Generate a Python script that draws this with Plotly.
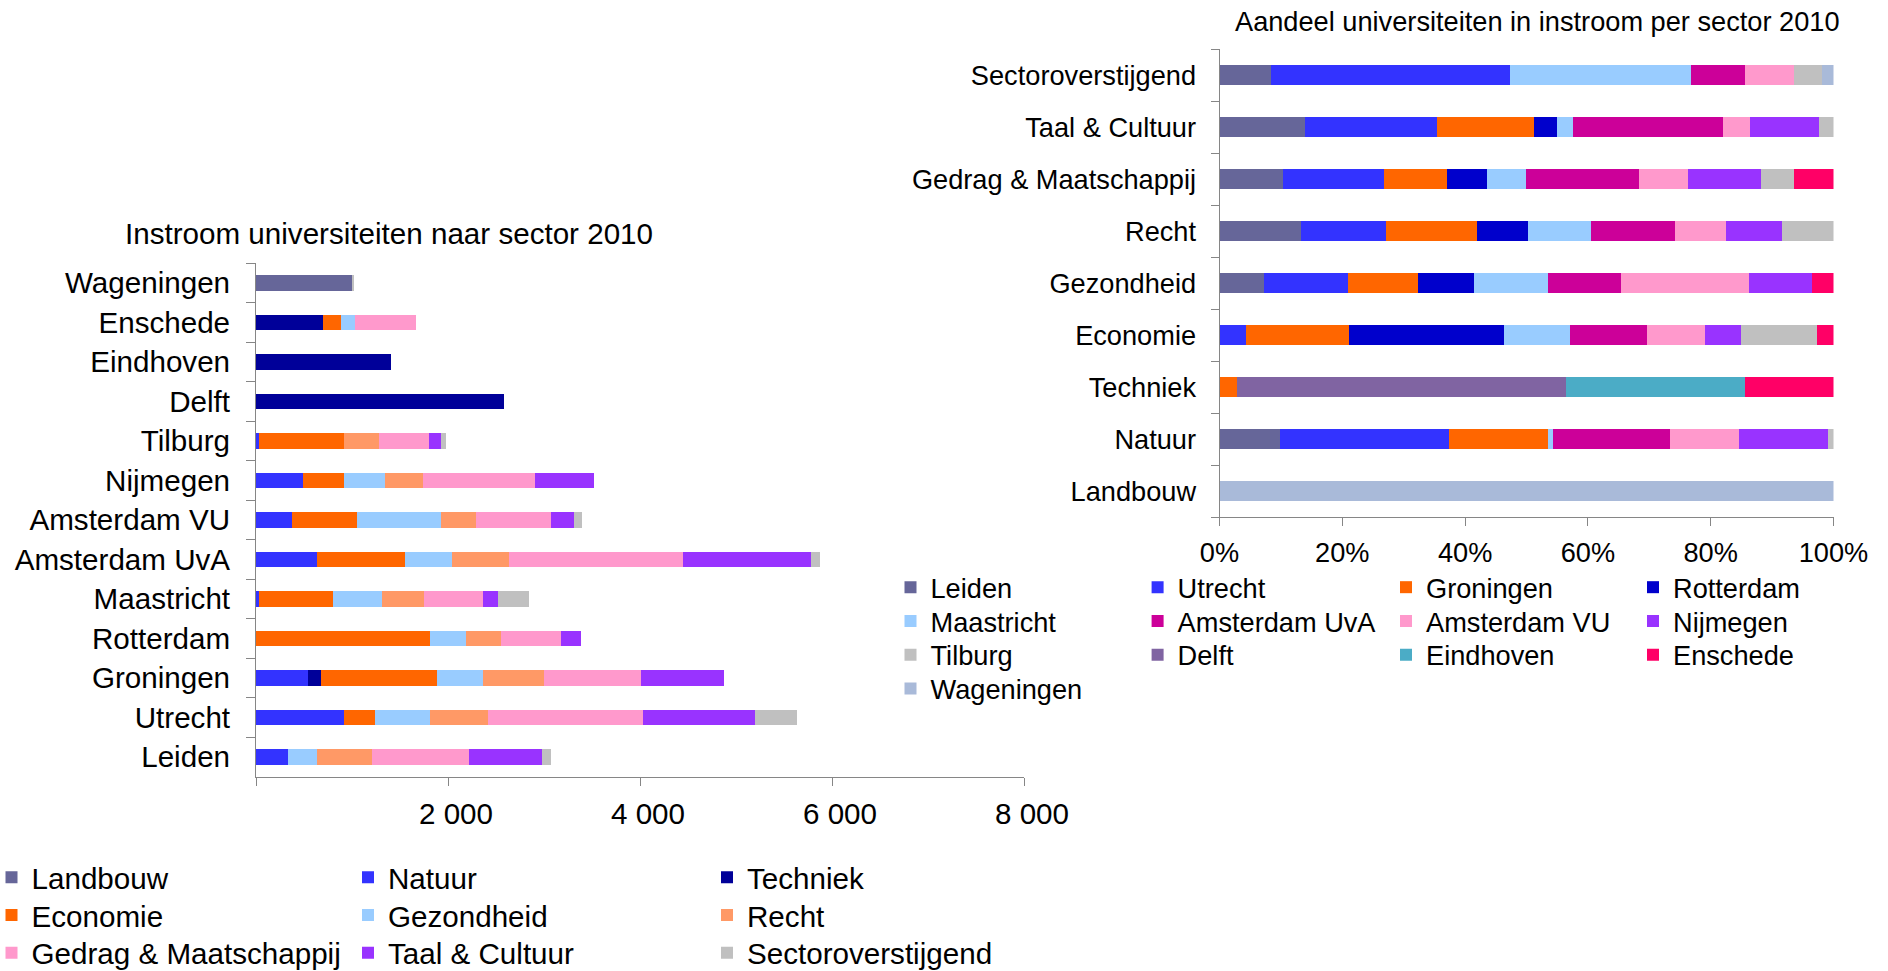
import numpy as np
import plotly.graph_objects as go

W, H = 1888, 971

universities = ["Leiden", "Utrecht", "Groningen", "Rotterdam", "Maastricht",
                "Amsterdam UvA", "Amsterdam VU", "Nijmegen", "Tilburg",
                "Delft", "Eindhoven", "Enschede", "Wageningen"]
sectors = ["Landbouw", "Natuur", "Techniek", "Economie", "Gezondheid", "Recht",
           "Gedrag & Maatschappij", "Taal & Cultuur", "Sectoroverstijgend"]

# Instroom 2010 per sector, in the order of `universities`
landbouw = [0, 0, 0, 0, 0, 0, 0, 0, 0, 0, 0, 0, 1000]
natuur = [331, 921, 542, 0, 28, 638, 375, 490, 28, 0, 0, 0, 0]
techniek = [0, 0, 140, 0, 0, 0, 0, 0, 0, 2580, 1411, 694, 0]
economie = [0, 315, 1208, 1810, 770, 909, 678, 423, 893, 0, 0, 191, 0]
gezondheid = [303, 578, 478, 379, 510, 494, 877, 435, 0, 0, 0, 144, 0]
recht = [570, 598, 634, 359, 439, 594, 359, 391, 359, 0, 0, 0, 0]
gedrag = [1013, 1615, 1009, 634, 622, 1810, 781, 1164, 518, 0, 0, 638, 0]
taal = [766, 1176, 869, 203, 148, 1336, 239, 622, 128, 0, 0, 0, 0]
sectoroverstijgend = [92, 431, 0, 0, 327, 96, 88, 0, 52, 0, 0, 0, 20]

sector_values = [landbouw, natuur, techniek, economie, gezondheid, recht,
                 gedrag, taal, sectoroverstijgend]

left_tickvals = [0, 2000, 4000, 6000, 8000]
left_ticktext = ["", "2 000", "4 000", "6 000", "8 000"]
right_tickvals = [0, 20, 40, 60, 80, 100]
right_ticktext = ["0%", "20%", "40%", "60%", "80%", "100%"]

sector_colors = ["#666699", "#3333FF", "#000099", "#FF6600", "#99CCFF",
                 "#FF9966", "#FF99CC", "#9933FF", "#C0C0C0"]
uni_colors = ["#666699", "#3333FF", "#FF6600", "#0000CC", "#99CCFF", "#CC0099",
              "#FF99CC", "#9933FF", "#C0C0C0", "#8064A2", "#4BACC6", "#FF0066",
              "#A9BAD9"]

FONT = "Liberation Sans, Arial, Helvetica, sans-serif"
FS_L = 29.6
FS_R = 27.2
AX = "#868686"

def px_x(p):
    return p / W

def px_y(p):
    return 1 - p / H

fig = go.Figure()

# share of each university within a sector (right chart)
mat = np.array(sector_values, dtype=float)          # sectors x universities
shares = mat / mat.sum(axis=1, keepdims=True) * 100

legend_layouts = {}
n_leg = 0

def new_legend(cx, cy, size):
    global n_leg
    n_leg += 1
    name = "legend" if n_leg == 1 else f"legend{n_leg}"
    legend_layouts[name] = dict(
        x=px_x(cx - 20), y=px_y(cy), xanchor="left", yanchor="middle",
        xref="paper", yref="paper", bgcolor="rgba(0,0,0,0)", borderwidth=0,
        font=dict(family=FONT, size=size, color="#000000"),
        orientation="v", tracegroupgap=0, itemclick=False,
    )
    return name

# left legend geometry (3 columns)
L_cols = [11.5, 368, 727]
L_rows = [877.5, 915.3, 953.0]
for i, s in enumerate(sectors):
    lg = new_legend(L_cols[i % 3], L_rows[i // 3], FS_L)
    fig.add_trace(go.Bar(
        y=universities, x=sector_values[i], name=s, orientation="h",
        marker=dict(color=sector_colors[i], line=dict(width=0)),
        xaxis="x", yaxis="y", legend=lg, showlegend=True,
    ))

# right legend geometry (4 columns)
R_cols = [910.5, 1157.6, 1406, 1653]
R_rows = [587.5, 621.3, 655.0, 688.7]
for j, u in enumerate(universities):
    lg = new_legend(R_cols[j % 4], R_rows[j // 4], FS_R)
    fig.add_trace(go.Bar(
        y=sectors, x=shares[:, j], name=u, orientation="h",
        marker=dict(color=uni_colors[j], line=dict(width=0)),
        xaxis="x2", yaxis="y2", legend=lg, showlegend=True,
    ))

axis_common = dict(showline=True, linecolor=AX, linewidth=1, ticks="outside",
                   tickcolor=AX, tickwidth=1, showgrid=False, zeroline=False,
                   automargin=False)

fig.update_layout(
    width=W, height=H, template="none",
    margin=dict(l=0, r=0, t=0, b=0, pad=0, autoexpand=False),
    paper_bgcolor="white", plot_bgcolor="white",
    barmode="stack", bargap=0.6,
    font=dict(family=FONT, size=FS_L, color="#000000"),
    xaxis=dict(domain=[px_x(256), px_x(1024)], range=[0, 8000],
               tickvals=left_tickvals, ticktext=left_ticktext, ticklen=8,
               tickfont=dict(size=FS_L), ticklabelshift=8, ticklabelstandoff=3,
               anchor="y", **axis_common),
    yaxis=dict(domain=[px_y(776.8), px_y(263.3)], type="category",
               tickson="boundaries", ticklen=9, tickfont=dict(size=FS_L),
               ticklabelstandoff=19, anchor="x", **axis_common),
    xaxis2=dict(domain=[px_x(1219.5), px_x(1833.5)], range=[0, 100],
                tickvals=right_tickvals, ticktext=right_ticktext, ticklen=8,
                tickfont=dict(size=FS_R), ticklabelstandoff=3,
                anchor="y2", **axis_common),
    yaxis2=dict(domain=[px_y(517), px_y(49)], type="category",
                tickson="boundaries", ticklen=8, tickfont=dict(size=FS_R),
                ticklabelstandoff=17, anchor="x2", **axis_common),
    annotations=[
        dict(text="Instroom universiteiten naar sector 2010", x=px_x(389),
             y=px_y(234), xref="paper", yref="paper", xanchor="center",
             yanchor="middle", showarrow=False,
             font=dict(family=FONT, size=FS_L, color="#000000")),
        dict(text="Aandeel universiteiten in instroom per sector 2010",
             x=px_x(1537.5), y=px_y(21), xref="paper", yref="paper",
             xanchor="center", yanchor="middle", showarrow=False,
             font=dict(family=FONT, size=FS_R, color="#000000")),
    ],
    showlegend=True,
    **legend_layouts,
)

fig.write_html(
    "out.html",
    config={"displayModeBar": False},
    post_script="document.body.style.margin='0px';"
                "document.body.style.overflow='hidden';",
)
